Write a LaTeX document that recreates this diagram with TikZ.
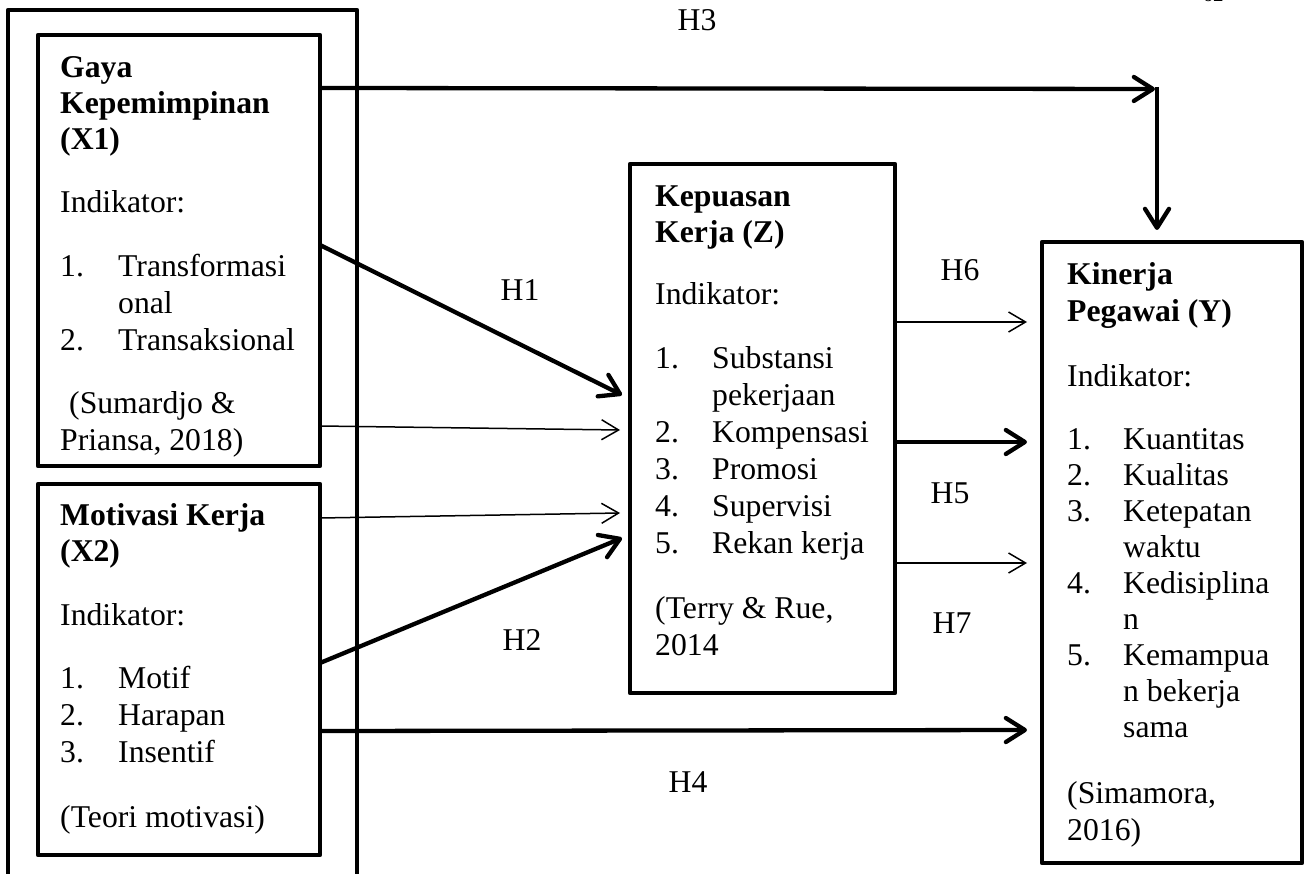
\documentclass[tikz,border=0pt]{standalone}
\usepackage{fontspec}
\setmainfont{Liberation Serif}
\usetikzlibrary{arrows.meta,calc}
\begin{document}
\begin{tikzpicture}[x=1pt,y=1pt,
  box/.style={draw, line width=4.6pt, line join=round, inner sep=0pt, outer sep=0pt, anchor=north west},
  txt/.style={anchor=base west, inner sep=0pt, font=\fontsize{31.7}{36}\selectfont},
  ttl/.style={txt, font=\fontsize{31.7}{36}\selectfont\bfseries},
  lbl/.style={inner sep=0pt, font=\fontsize{31.7}{36}\selectfont},
  thk/.style={line width=4.3pt, -{Straight Barb[length=19pt,width=24pt,round]}},
  thn/.style={line width=1.5pt, -{Straight Barb[length=17pt,width=20pt]}}]
\useasboundingbox (0,0) rectangle (1308,-874);

% page number, cut by the top edge
\node[anchor=base, inner sep=0pt, font=\fontsize{21}{24}\selectfont] (pg) at (1213,-2) {62};

% boxes
\node[box, minimum width=349pt, minimum height=890pt] (frame) at (8,-10) {};
\node[box, minimum width=282pt, minimum height=431pt] (x1) at (38,-35) {};
\node[box, minimum width=282pt, minimum height=371pt] (x2) at (38,-484) {};
\node[box, minimum width=265pt, minimum height=529pt] (z) at (630,-164) {};
\node[box, minimum width=260pt, minimum height=621pt] (y) at (1042,-242) {};

% Gaya Kepemimpinan (X1)
\node[ttl] (x1t1) at (60,-78) {Gaya};
\node[ttl] (x1t2) at (60,-114) {Kepemimpinan};
\node[ttl] (x1t3) at (60,-150) {(X1)};
\node[txt] (x1i) at (60,-213) {Indikator:};
\node[txt] (x1n1) at (60,-277) {1.};
\node[txt] (x1a1) at (118,-277) {Transformasi};
\node[txt] (x1a1b) at (118,-313) {onal};
\node[txt] (x1n2) at (60,-350) {2.};
\node[txt] (x1a2) at (118,-350) {Transaksional};
\node[txt] (x1s1) at (69,-413) {(Sumardjo \&};
\node[txt] (x1s2) at (60,-450) {Priansa, 2018)};

% Motivasi Kerja (X2)
\node[ttl] (x2t1) at (60,-525) {Motivasi Kerja};
\node[ttl] (x2t2) at (60,-561) {(X2)};
\node[txt] (x2i) at (60,-625) {Indikator:};
\node[txt] (x2n1) at (60,-688) {1.};
\node[txt] (x2a1) at (118,-688) {Motif};
\node[txt] (x2n2) at (60,-725) {2.};
\node[txt] (x2a2) at (118,-725) {Harapan};
\node[txt] (x2n3) at (60,-762) {3.};
\node[txt] (x2a3) at (118,-762) {Insentif};
\node[txt] (x2s) at (60,-827) {(Teori motivasi)};

% Kepuasan Kerja (Z)
\node[ttl] (zt1) at (655,-207) {Kepuasan};
\node[ttl] (zt2) at (655,-243) {Kerja (Z)};
\node[txt] (zi) at (655,-305) {Indikator:};
\node[txt] (zn1) at (655,-368) {1.};
\node[txt] (za1) at (712,-368) {Substansi};
\node[txt] (za1b) at (712,-405) {pekerjaan};
\node[txt] (zn2) at (655,-442) {2.};
\node[txt] (za2) at (712,-442) {Kompensasi};
\node[txt] (zn3) at (655,-479) {3.};
\node[txt] (za3) at (712,-479) {Promosi};
\node[txt] (zn4) at (655,-516) {4.};
\node[txt] (za4) at (712,-516) {Supervisi};
\node[txt] (zn5) at (655,-553) {5.};
\node[txt] (za5) at (712,-553) {Rekan kerja};
\node[txt] (zs1) at (655,-618) {(Terry \& Rue,};
\node[txt] (zs2) at (655,-655) {2014};

% Kinerja Pegawai (Y)
\node[ttl] (yt1) at (1067,-285) {Kinerja};
\node[ttl] (yt2) at (1067,-321) {Pegawai (Y)};
\node[txt] (yi) at (1067,-386) {Indikator:};
\node[txt] (yn1) at (1067,-449) {1.};
\node[txt] (ya1) at (1123,-449) {Kuantitas};
\node[txt] (yn2) at (1067,-485) {2.};
\node[txt] (ya2) at (1123,-485) {Kualitas};
\node[txt] (yn3) at (1067,-521) {3.};
\node[txt] (ya3) at (1123,-521) {Ketepatan};
\node[txt] (ya3b) at (1123,-557) {waktu};
\node[txt] (yn4) at (1067,-593) {4.};
\node[txt] (ya4) at (1123,-593) {Kedisiplina};
\node[txt] (ya4b) at (1123,-629) {n};
\node[txt] (yn5) at (1067,-665) {5.};
\node[txt] (ya5) at (1123,-665) {Kemampua};
\node[txt] (ya5b) at (1123,-701) {n bekerja};
\node[txt] (ya5c) at (1123,-737) {sama};
\node[txt] (ys1) at (1067,-803) {(Simamora,};
\node[txt] (ys2) at (1067,-840) {2016)};

% hypothesis labels
\node[lbl] (h3) at (697,-20) {H3};
\node[lbl] (h1) at (520,-290) {H1};
\node[lbl] (h2) at (522,-640) {H2};
\node[lbl] (h4) at (688,-782) {H4};
\node[lbl] (h6) at (960,-270) {H6};
\node[lbl] (h5) at (950,-493) {H5};
\node[lbl] (h7) at (952,-623) {H7};

% connectors
\coordinate (h3c) at (1157,-89);
\draw[thk] ([yshift=-53pt]x1.north east) -- ([xshift=-2pt]h3c);
\draw[thk, shorten >=12pt] ([yshift=2pt]h3c) -- (h3c |- y.north);
\draw[thk] ([yshift=-210pt]x1.north east) -- ($(z.north west)+(-8,-231)$);
\draw[thn] ([yshift=-391pt]x1.north east) -- ($(z.north west)+(-10,-266)$);
\draw[thn] ([yshift=-34pt]x2.north east) -- ($(z.north west)+(-10,-349)$);
\draw[thk] ([yshift=-179pt]x2.north east) -- ($(z.north west)+(-8,-374)$);
\draw[thk] ([yshift=-247pt]x2.north east) -- ($(y.north west)+(-15,-488)$);
\draw[thn] ([yshift=-158pt]z.north east) -- ($(y.north west)+(-15,-80)$);
\draw[thk] ([yshift=-278pt]z.north east) -- ($(y.north west)+(-15,-200)$);
\draw[thn] ([yshift=-399pt]z.north east) -- ($(y.north west)+(-15,-321)$);
\end{tikzpicture}
\end{document}
